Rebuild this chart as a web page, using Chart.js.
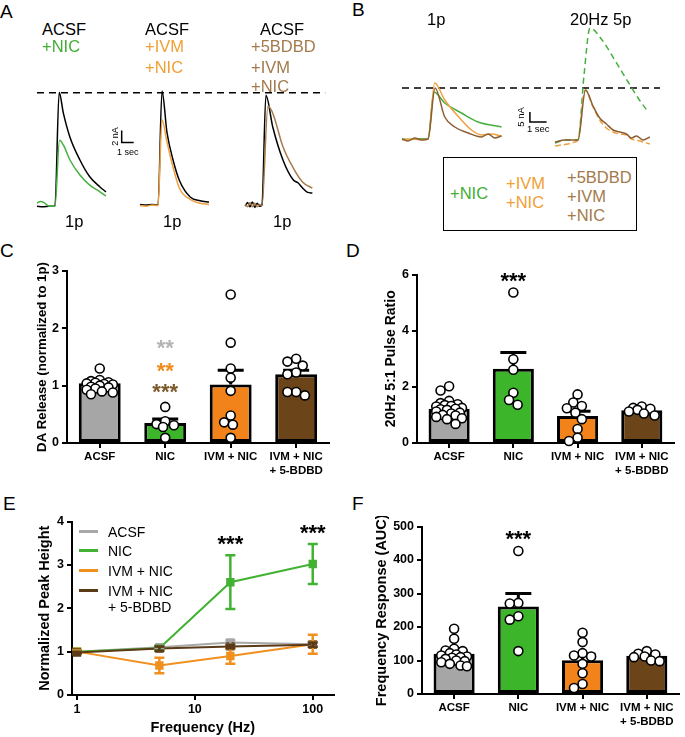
<!DOCTYPE html>
<html>
<head>
<meta charset="utf-8">
<script src="https://cdn.jsdelivr.net/npm/chart.js@4.4.1/dist/chart.umd.min.js"></script>
<style>
  body { margin:0; width:685px; height:737px; position:relative; overflow:hidden; background:#fff;
         font-family: Arial, "Liberation Sans", sans-serif; }
  canvas { position:absolute; }
  .t { position:absolute; white-space:nowrap; font-size:16.5px; line-height:20px; }
  .letter { position:absolute; font-size:19px; line-height:20px; }
  .leg { position:absolute; font-size:14px; line-height:16px; white-space:nowrap; }
  .legline { position:absolute; height:3px; width:19px; }
  .box { position:absolute; border:1.5px solid #000; box-sizing:border-box; }
</style>
</head>
<body>
<canvas id="traceA" width="300" height="140" style="left:30px;top:80px"></canvas>
<canvas id="traceB" width="270" height="135" style="left:395px;top:15px"></canvas>
<canvas id="chartC" width="301" height="218" style="left:34px;top:259px"></canvas>
<canvas id="chartD" width="297" height="213" style="left:383px;top:264px"></canvas>
<canvas id="chartE" width="304" height="226" style="left:36px;top:511px"></canvas>
<canvas id="chartF" width="312" height="212" style="left:373px;top:516px"></canvas>

<div class="letter" style="left:0;top:2px">A</div>
<div class="letter" style="left:352px;top:0">B</div>
<div class="letter" style="left:0;top:241px">C</div>
<div class="letter" style="left:346px;top:241px">D</div>
<div class="letter" style="left:3px;top:494px">E</div>
<div class="letter" style="left:352px;top:494px">F</div>

<!-- panel A labels -->
<div class="t" style="left:42px;top:19px">ACSF</div>
<div class="t" style="left:42px;top:36px;color:#43ad35">+NIC</div>
<div class="t" style="left:145px;top:19px">ACSF</div>
<div class="t" style="left:145px;top:36px;color:#f0a035">+IVM</div>
<div class="t" style="left:145px;top:57px;color:#f0a035">+NIC</div>
<div class="t" style="left:260px;top:19px">ACSF</div>
<div class="t" style="left:251px;top:36px;color:#a27a4c">+5BDBD</div>
<div class="t" style="left:251px;top:57px;color:#a27a4c">+IVM</div>
<div class="t" style="left:251px;top:76px;color:#a27a4c">+NIC</div>
<div class="t" style="left:65px;top:211px">1p</div>
<div class="t" style="left:163px;top:211px">1p</div>
<div class="t" style="left:273px;top:211px">1p</div>

<!-- panel B labels -->
<div class="t" style="left:427px;top:9px">1p</div>
<div class="t" style="left:570px;top:9px">20Hz 5p</div>
<div class="box" style="left:443px;top:157px;width:194px;height:74px"></div>
<div class="t" style="left:450px;top:183px;color:#43ad35">+NIC</div>
<div class="t" style="left:506px;top:173px;color:#f0a035">+IVM</div>
<div class="t" style="left:506px;top:192px;color:#f0a035">+NIC</div>
<div class="t" style="left:567px;top:167px;color:#a27a4c">+5BDBD</div>
<div class="t" style="left:567px;top:186px;color:#a27a4c">+IVM</div>
<div class="t" style="left:567px;top:205px;color:#a27a4c">+NIC</div>

<!-- panel E legend -->
<div class="legline" style="left:79px;top:530px;background:#a8a8a8"></div>
<div class="leg" style="left:108px;top:524px">ACSF</div>
<div class="legline" style="left:79px;top:549px;background:#42b232"></div>
<div class="leg" style="left:108px;top:543px">NIC</div>
<div class="legline" style="left:79px;top:569px;background:#f0901e"></div>
<div class="leg" style="left:108px;top:563px">IVM + NIC</div>
<div class="legline" style="left:79px;top:589px;background:#5b3b17"></div>
<div class="leg" style="left:108px;top:583px">IVM + NIC</div>
<div class="leg" style="left:108px;top:599px">+ 5-BDBD</div>

<script>
// ---------- data ----------
var groupLabels = ['ACSF', 'NIC', 'IVM + NIC', ['IVM + NIC', '+ 5-BDBD']];

// C: DA release normalized to 1p
var relMean = [1.04, 0.35, 1.02, 1.20];
var relSem = [0.04, 0.07, 0.25, 0.07];
var relAcsf = [1.30, 1.10, 1.08, 1.06, 1.05, 1.04, 1.03, 1.02, 1.00, 0.98, 0.97, 0.95, 0.93, 0.90, 0.88, 0.85];
var relNic = [0.63, 0.38, 0.33, 0.31, 0.28, 0.09];
var relIvm = [2.59, 1.75, 1.30, 1.14, 0.91, 0.48, 0.36, 0.32, 0.09];
var relBdbd = [1.47, 1.42, 1.35, 1.23, 1.20, 0.89, 0.89, 0.83];
var relStars = ['**', '**', '***'];
var relStarY = [1.75, 1.36, 0.98];

// D: 20Hz 5:1 pulse ratio
var ratioMean = [1.22, 2.64, 0.96, 1.17];
var ratioSem = [0.07, 0.58, 0.17, 0.05];
var ratioAcsf = [2.02, 1.87, 1.50, 1.42, 1.38, 1.35, 1.32, 1.30, 1.25, 1.22, 1.20, 1.18, 1.12, 1.08, 1.05, 1.00, 0.98, 0.93, 0.88, 0.85, 0.68];
var ratioNic = [5.36, 2.98, 2.61, 1.79, 1.53, 1.36];
var ratioIvm = [1.73, 1.44, 1.32, 1.24, 1.08, 0.85, 0.50, 0.19, 0.07];
var ratioBdbd = [1.30, 1.25, 1.22, 1.18, 1.12, 1.05, 0.98];

// F: frequency response AUC
var aucMean = [120, 261, 101, 114];
var aucSem = [7, 39, 18, 5];
var aucAcsf = [195, 165, 135, 130, 128, 122, 118, 115, 112, 110, 108, 105, 100, 98, 95, 90, 85, 83];
var aucNic = [427, 272, 270, 232, 222, 128];
var aucIvm = [183, 155, 122, 115, 112, 90, 62, 30, 18];
var aucBdbd = [128, 120, 118, 112, 110, 100, 98];

// E: normalized peak height vs frequency
var freqHz = [1, 5, 20, 100];
var peakAcsf = [1.00, 1.10, 1.21, 1.17];
var semAcsf = [0.02, 0.04, 0.05, 0.05];
var peakNic = [1.00, 1.08, 2.60, 3.02];
var semNic = [0.02, 0.05, 0.62, 0.46];
var peakIvm = [1.00, 0.68, 0.90, 1.17];
var semIvm = [0.02, 0.18, 0.18, 0.22];
var peakBdbd = [0.98, 1.07, 1.12, 1.16];
var semBdbd = [0.02, 0.05, 0.04, 0.05];
var freqTicks = [1, 10, 100];
var freqStarHz = [20, 100];
var freqStarY = [3.6, 3.87];

// A: 1p traces (s from stimulus, nA)
var tAcsf1 = [-1.5, -1.0, -0.5, 0, 0.35, 0.7, 1.25, 2.08, 2.9, 3.75, 4.25];
var iAcsf1 = [0.3, 0.2, 0.3, 0.3, 19.3, 15.8, 11.8, 8.0, 5.2, 3.5, 2.7];
var tNic1 = [-1.5, -1.2, -0.9, -0.5, 0, 0.38, 0.7, 1.25, 2.08, 2.9, 3.75, 4.25];
var iNic1 = [0.8, 1.1, 0.9, 0.3, 0.3, 11.3, 10.5, 8.0, 5.5, 3.8, 2.7, 2.0];
var tAcsf2 = [-1.5, -1.0, -0.5, 0, 0.33, 0.75, 1.25, 1.8, 2.7, 3.5, 4.25];
var iAcsf2 = [0.6, 0.5, 0.6, 0.5, 19.5, 12.5, 8.0, 4.5, 1.8, 1.2, 1.0];
var tIvm2 = [-1.5, -1.0, -0.5, 0, 0.33, 0.75, 1.25, 1.8, 2.7, 3.5, 4.25];
var iIvm2 = [0.4, 0.3, 0.5, 0.4, 14.7, 11.0, 6.8, 3.2, 1.4, 0.8, 0.6];
var tAcsf3 = [-1.4, -1.2, -1.0, -0.8, -0.6, -0.4, -0.2, 0, 0.33, 0.9, 1.75, 2.6, 3.0, 3.4, 3.8, 4.2];
var iAcsf3 = [0.3, 0.9, 0.2, 1.0, 0.1, 0.8, 0.3, 0.5, 18.8, 13.5, 8.0, 4.7, 4.2, 3.3, 2.6, 2.5];
var tBdbd3 = [-1.4, -1.2, -1.0, -0.8, -0.6, -0.4, -0.2, 0, 0.5, 0.9, 1.75, 2.6, 3.4, 4.2];
var iBdbd3 = [0.6, 0.2, 0.9, 0.2, 0.8, 0.2, 0.6, 0.4, 17.0, 15.8, 10.2, 6.7, 4.3, 3.3];
var stimA = [2.08, 10.67, 19.33];
var acsfPeakA = 19.2;

// B: 1p and 20Hz 5p traces
var tNic1p = [-1.56, -1.0, -0.5, 0, 0.35, 1.0, 2.0, 3.0, 4.4];
var iNic1p = [0.5, 0.3, 0.6, 0.8, 24, 18.5, 13.5, 9, 6.5];
var tIvm1p = [-1.56, -1.0, -0.5, 0, 0.4, 1.0, 2.0, 2.6, 3.2, 3.8, 4.4];
var iIvm1p = [0, 0.5, 0.2, 0.5, 28.5, 20, 10, 5, 2.5, 3, 2];
var tBdbd1p = [-1.56, -1.2, -0.8, -0.4, 0, 0.42, 1.0, 1.6, 2.4, 3.2, 3.6, 4.0, 4.4];
var iBdbd1p = [0.5, -0.5, 1, 0, 0.5, 26, 11.5, 6.5, 3.5, 1.5, 3, 1, 2];
var tNic5p = [-1.38, -0.7, 0, 0.36, 0.72, 1.44, 2.2, 3.0, 3.6, 4.2];
var iNic5p = [-1.5, 0, 0, 32.5, 56, 50, 40, 29, 21, 14];
var tIvm5p = [-1.38, -1.0, -0.6, -0.2, 0, 0.42, 0.9, 1.3, 1.7, 2.1, 2.5, 2.9, 3.2, 3.5, 3.9, 4.3];
var iIvm5p = [-3, -2.5, -2, -1, 0, 25, 16.5, 10, 6, 4, 3, 2.5, 0.5, 0, -1, -2];
var tBdbd5p = [-1.38, -0.8, 0, 0.45, 0.9, 1.3, 1.7, 2.1, 2.5, 2.9, 3.2, 3.5, 3.9, 4.3];
var iBdbd5p = [-1, 0, 0, 25, 17, 11, 8, 5, 4, 3, 1, 2, 0, 1.5];
var stimB = [1.98, 10.96];
var nicPeakB = 26;

// ---------- styles ----------
var FONT = 'Arial, "Liberation Sans", sans-serif';
var barColors = ['#a6a6a6', '#3db52b', '#f1831a', '#6b4419'];
Chart.defaults.font.family = FONT;
Chart.defaults.color = '#000';
Chart.defaults.animation = false;
Chart.defaults.plugins.legend.display = false;
Chart.defaults.plugins.tooltip.enabled = false;

function xy(ts, vs, shift) {
  return ts.map(function (t, k) { return {x: t + shift, y: vs[k]}; });
}

// spread column-scatter points inside the bar, allowing some overlap
function swarm(vals, yMax, plotH, catW) {
  var d = 8.6, lim = 15, placed = [];
  return vals.map(function (v) {
    var py = v / yMax * plotH, best = 0, bestGap = -1;
    for (var k = 0; k < 40; k++) {
      var c = (k % 2 ? -1 : 1) * Math.ceil(k / 2) * 2.2;
      if (Math.abs(c) > lim) break;
      var gap = placed.reduce(function (m, p) { return Math.min(m, Math.hypot(p[0] - c, p[1] - py)); }, Infinity);
      if (gap >= d) { best = c; break; }
      if (gap > bestGap) { best = c; bestGap = gap; }
    }
    placed.push([best, py]);
    return best / catW;
  });
}

var barErr = {
  id: 'barErr',
  afterDatasetDraw: function (chart, args, o) {
    if (args.index !== 0) return;
    var ctx = chart.ctx, x = chart.scales.x, y = chart.scales.y;
    ctx.save();
    ctx.strokeStyle = '#000'; ctx.lineWidth = 3;
    o.mean.forEach(function (m, i) {
      var px = x.getPixelForValue(i), y0 = y.getPixelForValue(m), y1 = y.getPixelForValue(m + o.sem[i]);
      ctx.beginPath();
      ctx.moveTo(px, y0); ctx.lineTo(px, y1);
      ctx.moveTo(px - 13, y1); ctx.lineTo(px + 13, y1);
      ctx.stroke();
    });
    ctx.restore();
  }
};

var stars = {
  id: 'stars',
  afterDraw: function (chart, args, o) {
    var ctx = chart.ctx, x = chart.scales.x, y = chart.scales.y;
    ctx.save();
    ctx.font = 'bold 22px ' + FONT; ctx.textAlign = 'center';
    o.text.forEach(function (s, i) {
      ctx.fillStyle = o.colors[i];
      ctx.fillText(s, x.getPixelForValue(o.x[i]), y.getPixelForValue(o.y[i]) + 0.57 * 22);
    });
    ctx.restore();
  }
};

var lineErr = {
  id: 'lineErr',
  afterDatasetsDraw: function (chart, args, o) {
    var ctx = chart.ctx, x = chart.scales.x, y = chart.scales.y;
    ctx.save(); ctx.lineWidth = 2.5;
    chart.data.datasets.forEach(function (ds, i) {
      ctx.strokeStyle = ds.borderColor;
      ds.data.forEach(function (p, k) {
        var px = x.getPixelForValue(p.x);
        var y1 = y.getPixelForValue(p.y + o.sem[i][k]), y2 = y.getPixelForValue(p.y - o.sem[i][k]);
        ctx.beginPath();
        ctx.moveTo(px, y1); ctx.lineTo(px, y2);
        ctx.moveTo(px - 5, y1); ctx.lineTo(px + 5, y1);
        ctx.moveTo(px - 5, y2); ctx.lineTo(px + 5, y2);
        ctx.stroke();
      });
    });
    ctx.restore();
  }
};

var scaleBar = {
  id: 'scaleBar',
  afterDraw: function (chart, args, o) {
    var ctx = chart.ctx, x = chart.scales.x, y = chart.scales.y;
    var x0 = x.getPixelForValue(o.t), y0 = y.getPixelForValue(o.i);
    var x1 = x.getPixelForValue(o.t + 1), y1 = y.getPixelForValue(o.i + o.nA);
    ctx.save();
    ctx.strokeStyle = '#000'; ctx.lineWidth = 1.5;
    ctx.beginPath(); ctx.moveTo(x0, y1); ctx.lineTo(x0, y0); ctx.lineTo(x1, y0); ctx.stroke();
    ctx.fillStyle = '#000'; ctx.font = o.size + 'px ' + FONT;
    ctx.textAlign = 'center'; ctx.textBaseline = 'middle';
    ctx.fillText('1 sec', (x0 + x1) / 2, y0 + o.dy);
    ctx.translate(x0 - o.dx, (y0 + y1) / 2); ctx.rotate(-Math.PI / 2);
    ctx.fillText(o.label, 0, 0);
    ctx.restore();
  }
};

function trace(data, color, dash) {
  return {data: data, borderColor: color, borderWidth: 1.5, borderDash: dash || [], pointRadius: 0,
          cubicInterpolationMode: 'monotone', fill: false, clip: false};
}

function traceChart(id, datasets, xMax, yMin, yMax, bar) {
  return new Chart(document.getElementById(id), {
    type: 'line',
    data: {datasets: datasets},
    options: {
      responsive: false,
      layout: {padding: 0},
      scales: {
        x: {type: 'linear', display: false, min: 0, max: xMax},
        y: {type: 'linear', display: false, min: yMin, max: yMax}
      },
      plugins: {scaleBar: bar}
    },
    plugins: [scaleBar]
  });
}

// ---------- A ----------
traceChart('traceA', [
  trace(xy(tNic1, iNic1, stimA[0]), '#45b040'),
  trace(xy(tAcsf1, iAcsf1, stimA[0]), '#000'),
  trace(xy(tIvm2, iIvm2, stimA[1]), '#f0a040'),
  trace(xy(tAcsf2, iAcsf2, stimA[1]), '#000'),
  trace(xy(tBdbd3, iBdbd3, stimA[2]), '#a67c4e'),
  trace(xy(tAcsf3, iAcsf3, stimA[2]), '#000'),
  trace([{x: 0.58, y: acsfPeakA}, {x: 24.6, y: acsfPeakA}], '#000', [7, 5])
], 25, -2, 21.33, {t: 7.64, i: 10.9, nA: 2, label: '2 nA', size: 9, dx: 6, dy: 10});

// ---------- B ----------
traceChart('traceB', [
  trace(xy(tBdbd1p, iBdbd1p, stimB[0]), '#8b5e34'),
  trace(xy(tIvm1p, iIvm1p, stimB[0]), '#f0a040'),
  trace(xy(tNic1p, iNic1p, stimB[0]), '#45b040'),
  trace(xy(tBdbd5p, iBdbd5p, stimB[1]), '#8b5e34'),
  trace(xy(tIvm5p, iIvm5p, stimB[1]), '#f0a040', [6, 3]),
  trace(xy(tNic5p, iNic5p, stimB[1]), '#45b040', [6, 4]),
  trace([{x: 0.42, y: nicPeakB}, {x: 15.87, y: nicPeakB}], '#000', [7, 5])
], 16.17, -5, 62.5, {t: 8.08, i: 9, nA: 5, label: '5 nA', size: 9.5, dx: 9, dy: 7});

// ---------- bar panels ----------
function barPanel(id, o) {
  var pts = [];
  o.groups.forEach(function (vals, g) {
    var offs = swarm(vals, o.yMax, o.plotH, 66);
    vals.forEach(function (v, k) { pts.push({x: g + offs[k], y: v}); });
  });
  var tickFont = {weight: 'bold', size: 11.5};
  return new Chart(document.getElementById(id), {
    type: 'bar',
    data: {
      labels: groupLabels,
      datasets: [
        {type: 'bar', data: o.mean, backgroundColor: barColors, borderColor: '#000', borderWidth: 3,
         borderSkipped: false, grouped: false, barPercentage: 0.64, categoryPercentage: 1, order: 1},
        {type: 'scatter', data: pts, xAxisID: 'xs', backgroundColor: '#fff', borderColor: '#000',
         borderWidth: 1.6, pointRadius: 4.5, order: 0, clip: false}
      ]
    },
    options: {
      responsive: false,
      layout: {padding: {top: o.padTop, right: o.padRight, left: 0, bottom: 0}},
      scales: {
        x: {
          grid: {display: true, drawOnChartArea: false, tickLength: 5, color: '#000', lineWidth: 2, offset: false},
          border: {color: '#000', width: 2},
          ticks: {color: '#000', font: tickFont, padding: 2, maxRotation: 0, autoSkip: false},
          afterFit: function (s) { s.height = 34; }
        },
        xs: {type: 'linear', display: false, offset: false, min: -0.5, max: 3.5},
        y: {
          min: 0, max: o.yMax,
          ticks: {stepSize: o.step, color: '#000', font: {weight: 'bold', size: 12.5}, padding: 3},
          grid: {drawOnChartArea: false, tickLength: 5, color: '#000', lineWidth: 2},
          border: {color: '#000', width: 2},
          title: {display: true, text: o.title, color: '#000', font: {weight: 'bold', size: o.titleSize}, padding: 0},
          afterFit: function (s) { s.width = o.yW; }
        }
      },
      plugins: {
        barErr: {mean: o.mean, sem: o.sem},
        stars: o.stars
      }
    },
    plugins: [barErr, stars]
  });
}

barPanel('chartC', {
  mean: relMean, sem: relSem, groups: [relAcsf, relNic, relIvm, relBdbd],
  yMax: 3, step: 1, plotH: 172, yW: 33, padTop: 12, padRight: 5, titleSize: 13.2,
  title: 'DA Release (normalized to 1p)',
  stars: {text: relStars, x: [1, 1, 1], y: relStarY, colors: ['#b4b4b4', '#ef8a1b', '#7c5a2c']}
});

barPanel('chartD', {
  mean: ratioMean, sem: ratioSem, groups: [ratioAcsf, ratioNic, ratioIvm, ratioBdbd],
  yMax: 6, step: 2, plotH: 171, yW: 34, padTop: 8, padRight: 5, titleSize: 14,
  title: '20Hz 5:1 Pulse Ratio',
  stars: {text: ['***'], x: [1], y: [5.96], colors: ['#000']}
});

barPanel('chartF', {
  mean: aucMean, sem: aucSem, groups: [aucAcsf, aucNic, aucIvm, aucBdbd],
  yMax: 500, step: 100, plotH: 170, yW: 49, padTop: 8, padRight: 0, titleSize: 14.5,
  title: 'Frequency Response (AUC)',
  stars: {text: ['***'], x: [1], y: [478], colors: ['#000']}
});

// ---------- E ----------
function series(vals, color, order) {
  return {data: freqHz.map(function (f, k) { return {x: f, y: vals[k]}; }), borderColor: color,
          backgroundColor: color, borderWidth: 2, pointStyle: 'rect', pointRadius: 4.5,
          pointBorderColor: color, pointBackgroundColor: color, order: order, clip: false};
}

new Chart(document.getElementById('chartE'), {
  type: 'line',
  data: {
    datasets: [
      series(peakAcsf, '#a8a8a8', 3),
      series(peakNic, '#42b232', 2),
      series(peakIvm, '#f0901e', 1),
      series(peakBdbd, '#5b3b17', 0)
    ]
  },
  options: {
    responsive: false,
    layout: {padding: {top: 8, right: 5, left: 0, bottom: 0}},
    scales: {
      x: {
        type: 'logarithmic', min: 0.907, max: 150,
        afterBuildTicks: function (s) { s.ticks = freqTicks.map(function (v) { return {value: v}; }); },
        ticks: {color: '#000', font: {weight: 'bold', size: 12.5}, padding: 2, callback: function (v) { return String(v); }},
        grid: {drawOnChartArea: false, tickLength: 5, color: '#000', lineWidth: 2},
        border: {color: '#000', width: 2},
        title: {display: true, text: 'Frequency (Hz)', color: '#000', font: {weight: 'bold', size: 14.5}, padding: 0},
        afterFit: function (s) { s.height = 42; }
      },
      y: {
        min: 0, max: 4,
        ticks: {stepSize: 1, color: '#000', font: {weight: 'bold', size: 12.5}, padding: 3},
        grid: {drawOnChartArea: false, tickLength: 5, color: '#000', lineWidth: 2},
        border: {color: '#000', width: 2},
        title: {display: true, text: 'Normalized Peak Height', color: '#000', font: {weight: 'bold', size: 14.5}, padding: 0},
        afterFit: function (s) { s.width = 36; }
      }
    },
    plugins: {
      lineErr: {sem: [semAcsf, semNic, semIvm, semBdbd]},
      stars: {text: ['***', '***'], x: freqStarHz, y: freqStarY, colors: ['#000', '#000']}
    }
  },
  plugins: [lineErr, stars]
});
</script>
</body>
</html>
